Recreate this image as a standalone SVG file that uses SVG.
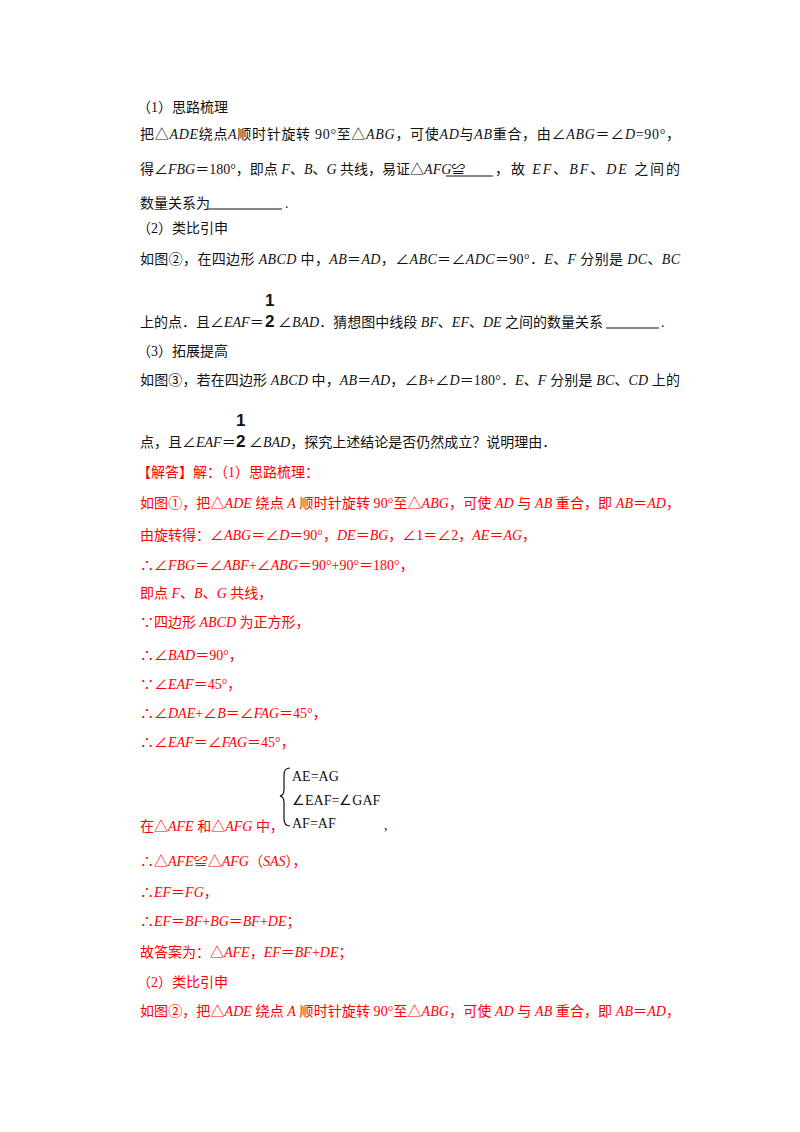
<svg xmlns="http://www.w3.org/2000/svg" width="800" height="1132" viewBox="0 0 800 1132">
<style>
text{font-family:"Liberation Serif","Noto Sans CJK SC",serif;font-size:14px;fill:#111}
.r{fill:#ff0000}
.i{font-style:italic}
.f{font-family:"Liberation Sans","Noto Sans CJK SC",sans-serif;font-size:17px;font-weight:bold}
.b{font-family:"Liberation Serif",serif;font-size:14px}
line{stroke:#111;stroke-width:1.2}
</style>
<rect width="800" height="1132" fill="#fff"/>
<g id="question">
<text x="137" y="112">（1）思路梳理</text>
<text x="140" y="139" textLength="540" lengthAdjust="spacing">把△<tspan class="i">ADE</tspan>绕点<tspan class="i">A</tspan>顺时针旋转 90°至△<tspan class="i">ABG</tspan>，可使<tspan class="i">AD</tspan>与<tspan class="i">AB</tspan>重合，由∠<tspan class="i">ABG</tspan>＝∠<tspan class="i">D</tspan>=90°，</text>
<text x="140" y="174">得∠<tspan class="i">FBG</tspan>＝180°，即点 <tspan class="i">F</tspan>、<tspan class="i">B</tspan>、<tspan class="i">G</tspan> 共线，易证△<tspan class="i">AFG</tspan>≌</text>
<line x1="446" y1="176" x2="493" y2="176"/>
<text x="495" y="174" textLength="185" lengthAdjust="spacing">，故 <tspan class="i">EF</tspan>、<tspan class="i">BF</tspan>、<tspan class="i">DE</tspan> 之间的</text>
<text x="140" y="208">数量关系为</text>
<line x1="208" y1="209" x2="282" y2="209"/>
<text x="285" y="208">.</text>
<text x="137" y="233">（2）类比引申</text>
<text x="140" y="264" textLength="540" lengthAdjust="spacing">如图②，在四边形 <tspan class="i">ABCD</tspan> 中，<tspan class="i">AB</tspan>＝<tspan class="i">AD</tspan>，∠<tspan class="i">ABC</tspan>＝∠<tspan class="i">ADC</tspan>＝90°．<tspan class="i">E</tspan>、<tspan class="i">F</tspan> 分别是 <tspan class="i">DC</tspan>、<tspan class="i">BC</tspan></text>
<text class="f" x="265" y="306">1</text>
<text class="f" x="265" y="327">2</text>
<text x="140" y="327">上的点．且∠<tspan class="i">EAF</tspan>＝</text>
<text x="278" y="327">∠<tspan class="i">BAD</tspan>．猜想图中线段 <tspan class="i">BF</tspan>、<tspan class="i">EF</tspan>、<tspan class="i">DE</tspan> 之间的数量关系</text>
<line x1="606" y1="328" x2="659" y2="328"/>
<text x="661" y="327">.</text>
<text x="137" y="356">（3）拓展提高</text>
<text x="140" y="385" textLength="540" lengthAdjust="spacing">如图③，若在四边形 <tspan class="i">ABCD</tspan> 中，<tspan class="i">AB</tspan>＝<tspan class="i">AD</tspan>，∠<tspan class="i">B</tspan>+∠<tspan class="i">D</tspan>＝180°．<tspan class="i">E</tspan>、<tspan class="i">F</tspan> 分别是 <tspan class="i">BC</tspan>、<tspan class="i">CD</tspan> 上的</text>
<text class="f" x="236" y="426">1</text>
<text class="f" x="236" y="447">2</text>
<text x="140" y="447">点，且∠<tspan class="i">EAF</tspan>＝</text>
<text x="249" y="447">∠<tspan class="i">BAD</tspan>，探究上述结论是否仍然成立？说明理由．</text>
</g>
<g id="answer">
<text class="r" x="137" y="477">【解答】解：（1）思路梳理：</text>
<text class="r" x="140" y="508" textLength="540" lengthAdjust="spacing">如图①，把△<tspan class="i">ADE</tspan> 绕点 <tspan class="i">A</tspan> 顺时针旋转 90°至△<tspan class="i">ABG</tspan>，可使 <tspan class="i">AD</tspan> 与 <tspan class="i">AB</tspan> 重合，即 <tspan class="i">AB</tspan>＝<tspan class="i">AD</tspan>，</text>
<text class="r" x="140" y="540">由旋转得：∠<tspan class="i">ABG</tspan>＝∠<tspan class="i">D</tspan>＝90°，<tspan class="i">DE</tspan>＝<tspan class="i">BG</tspan>，∠1＝∠2，<tspan class="i">AE</tspan>＝<tspan class="i">AG</tspan>，</text>
<text class="r" x="140" y="570">∴∠<tspan class="i">FBG</tspan>＝∠<tspan class="i">ABF</tspan>+∠<tspan class="i">ABG</tspan>＝90°+90°＝180°，</text>
<text class="r" x="140" y="598">即点 <tspan class="i">F</tspan>、<tspan class="i">B</tspan>、<tspan class="i">G</tspan> 共线，</text>
<text class="r" x="140" y="627">∵四边形 <tspan class="i">ABCD</tspan> 为正方形，</text>
<text class="r" x="140" y="660">∴∠<tspan class="i">BAD</tspan>＝90°，</text>
<text class="r" x="140" y="689">∵∠<tspan class="i">EAF</tspan>＝45°，</text>
<text class="r" x="140" y="718">∴∠<tspan class="i">DAE</tspan>+∠<tspan class="i">B</tspan>＝∠<tspan class="i">FAG</tspan>＝45°，</text>
<text class="r" x="140" y="747">∴∠<tspan class="i">EAF</tspan>＝∠<tspan class="i">FAG</tspan>＝45°，</text>
<path d="M290 768 Q284 768 284 775 L284 790 Q284 795 280 796 Q284 797 284 802 L284 819 Q284 826 290 826" fill="none" stroke="#111" stroke-width="1.2"/>
<text class="b" x="292" y="781">AE=AG</text>
<text class="b" x="292" y="805">∠EAF=∠GAF</text>
<text class="b" x="292" y="828">AF=AF</text>
<text class="r" x="140" y="831">在△<tspan class="i">AFE</tspan> 和△<tspan class="i">AFG</tspan> 中，</text>
<text x="384" y="830">,</text>
<text class="r" x="140" y="866">∴△<tspan class="i">AFE</tspan>≌△<tspan class="i">AFG</tspan>（<tspan class="i">SAS</tspan>），</text>
<text class="r" x="140" y="897">∴<tspan class="i">EF</tspan>＝<tspan class="i">FG</tspan>，</text>
<text class="r" x="140" y="926">∴<tspan class="i">EF</tspan>＝<tspan class="i">BF</tspan>+<tspan class="i">BG</tspan>＝<tspan class="i">BF</tspan>+<tspan class="i">DE</tspan>；</text>
<text class="r" x="140" y="957">故答案为：△<tspan class="i">AFE</tspan>，<tspan class="i">EF</tspan>＝<tspan class="i">BF</tspan>+<tspan class="i">DE</tspan>；</text>
<text class="r" x="137" y="987">（2）类比引申</text>
<text class="r" x="140" y="1016" textLength="540" lengthAdjust="spacing">如图②，把△<tspan class="i">ADE</tspan> 绕点 <tspan class="i">A</tspan> 顺时针旋转 90°至△<tspan class="i">ABG</tspan>，可使 <tspan class="i">AD</tspan> 与 <tspan class="i">AB</tspan> 重合，即 <tspan class="i">AB</tspan>＝<tspan class="i">AD</tspan>，</text>
</g>
</svg>
